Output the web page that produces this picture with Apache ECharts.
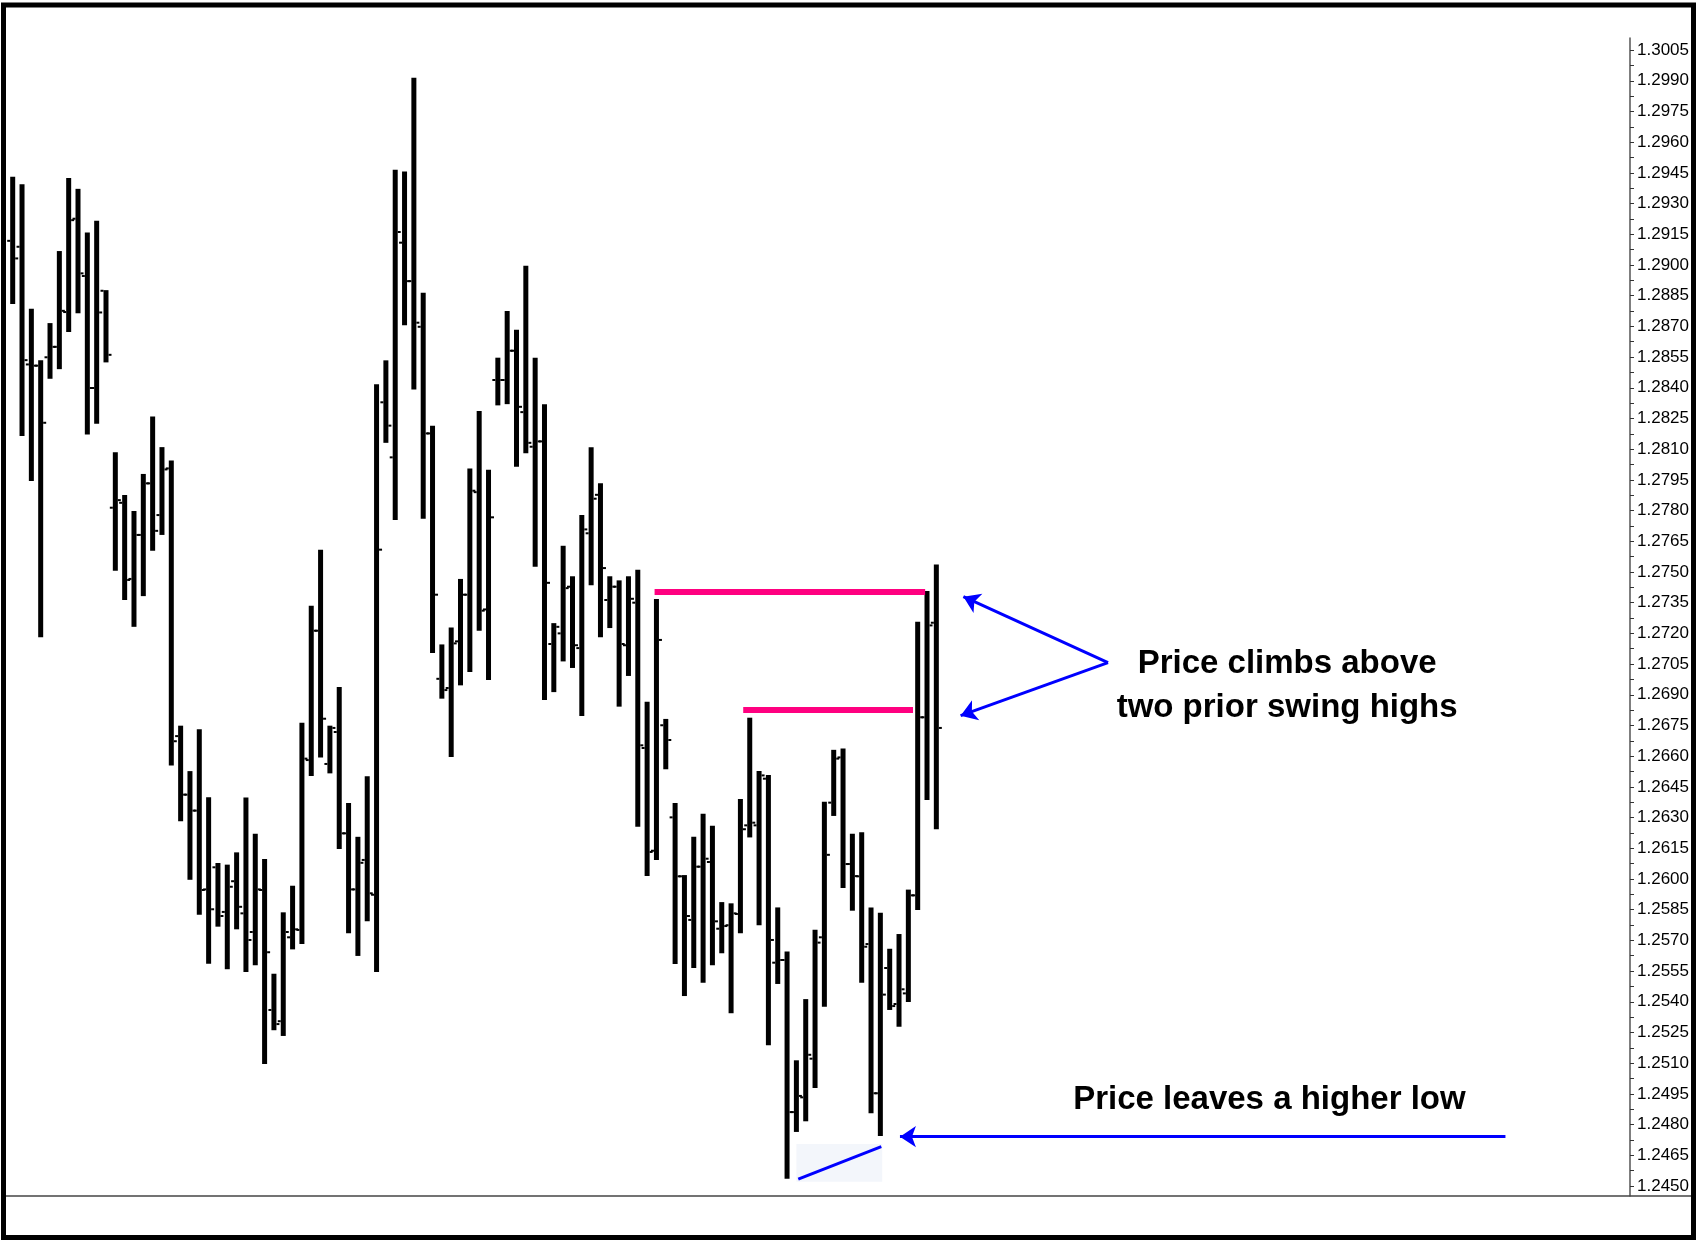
<!DOCTYPE html>
<html>
<head>
<meta charset="utf-8">
<script src="https://cdn.jsdelivr.net/npm/echarts@6/dist/echarts.min.js"></script>
<style>
html,body{margin:0;padding:0;background:#fff;}
#chart{width:1696px;height:1240px;}
</style>
</head>
<body>
<div id="chart"></div>
<script>
// ---- Data ----
const opens  = [1.29118,1.29089,1.28514,1.28508,1.28549,1.28600,1.28770,1.29226,1.28946,1.28399,
                1.28874,1.27814,1.27838,1.27466,1.27681,1.27933,1.27778,1.28006,1.26698,1.26412,
                1.26334,1.25949,1.26057,1.25839,1.25989,1.25832,1.25741,1.25946,1.25360,1.25305,
                1.25715,1.25751,1.26581,1.27213,1.26562,1.26718,1.26223,1.25949,1.26093,1.25923,
                1.28329,1.28060,1.29109,1.28921,1.28698,1.28177,1.26978,1.26933,1.27161,1.27389,
                1.27890,1.27317,1.28438,1.28438,1.28581,1.28281,1.28112,1.28138,1.27148,1.27200,
                1.27428,1.27128,1.27689,1.27877,1.27363,1.27428,1.27142,1.27350,1.26640,1.26138,
                1.26751,1.26301,1.26013,1.25800,1.26060,1.26083,1.25757,1.25774,1.25829,1.26262,
                1.26262,1.26490,1.25591,1.25604,1.24861,1.24933,1.25122,1.25715,1.26373,1.26594,
                1.26073,1.26013,1.25682,1.24953,1.25565,1.25389,1.25441,1.25920,1.26790,1.27252];
const highs  = [1.29431,1.29394,1.28786,1.28534,1.28716,1.29068,1.29425,1.29372,1.29159,1.29216,
                1.28877,1.28085,1.27876,1.27798,1.27979,1.28260,1.28110,1.28045,1.26749,1.26527,
                1.26731,1.26399,1.26078,1.26070,1.26130,1.26398,1.26221,1.26097,1.25537,1.25837,
                1.25967,1.26763,1.27335,1.27609,1.26749,1.26938,1.26371,1.26206,1.26502,1.28417,
                1.28534,1.29465,1.29457,1.29915,1.28864,1.28215,1.27146,1.27229,1.27466,1.28006,
                1.28286,1.27999,1.28547,1.28775,1.28683,1.28996,1.28547,1.28319,1.27250,1.27628,
                1.27479,1.27778,1.28110,1.27934,1.27479,1.27459,1.27479,1.27511,1.26866,1.27368,
                1.26782,1.26371,1.26019,1.26206,1.26319,1.26260,1.25887,1.25881,1.26391,1.26788,
                1.26527,1.26508,1.25861,1.25646,1.25114,1.25413,1.25752,1.26377,1.26631,1.26638,
                1.26221,1.26228,1.25861,1.25835,1.25659,1.25731,1.25948,1.27257,1.27407,1.27537];
const lows   = [1.28809,1.28164,1.27944,1.27181,1.28444,1.28491,1.28672,1.28764,1.28172,1.28224,
                1.28524,1.27506,1.27363,1.27232,1.27382,1.27604,1.27681,1.26555,1.26282,1.25996,
                1.25825,1.25586,1.25767,1.25559,1.25754,1.25545,1.25578,1.25096,1.25261,1.25233,
                1.25656,1.25682,1.26503,1.26594,1.26516,1.26146,1.25735,1.25624,1.25793,1.25545,
                1.28131,1.27754,1.28705,1.28392,1.27760,1.27104,1.26881,1.26596,1.26946,1.27011,
                1.27213,1.26972,1.28314,1.28320,1.28014,1.28080,1.27526,1.26874,1.26913,1.27063,
                1.27031,1.26796,1.27435,1.27181,1.27226,1.26842,1.26992,1.26255,1.26014,1.26093,
                1.26536,1.25585,1.25428,1.25565,1.25493,1.25578,1.25637,1.25344,1.25735,1.26203,
                1.25774,1.25187,1.25487,1.24535,1.24764,1.24816,1.24979,1.25376,1.26308,1.25956,
                1.25845,1.25493,1.24855,1.24744,1.25360,1.25278,1.25399,1.25848,1.26386,1.26243];
const closes = [1.29032,1.28535,1.28508,1.28229,1.28600,1.28776,1.29219,1.28959,1.28399,1.28768,
                1.28561,1.27851,1.27461,1.27681,1.27933,1.27701,1.28001,1.26673,1.26412,1.26334,
                1.25946,1.25852,1.25819,1.25962,1.25864,1.25702,1.25949,1.25642,1.25291,1.25741,
                1.25754,1.26588,1.27213,1.26783,1.26738,1.26223,1.25949,1.26079,1.25930,1.27609,
                1.28215,1.29161,1.28921,1.28718,1.28177,1.27389,1.26923,1.27151,1.27389,1.27897,
                1.27311,1.27767,1.28438,1.28581,1.28307,1.28131,1.28138,1.27447,1.27232,1.27421,
                1.27142,1.27708,1.27858,1.27519,1.27428,1.27148,1.27369,1.26653,1.26132,1.27168,
                1.26679,1.26013,1.25819,1.26060,1.26099,1.25793,1.25770,1.25832,1.26243,1.26275,
                1.26506,1.25702,1.25604,1.24861,1.24940,1.25141,1.25689,1.26118,1.26588,1.26073,
                1.26014,1.25669,1.24953,1.25435,1.25379,1.25461,1.25920,1.26790,1.27239,1.26738];

// price-scale tick labels
const tickLabels = [1.2450,1.2465,1.2480,1.2495,1.2510,1.2525,1.2540,1.2555,1.2570,1.2585,
                    1.2600,1.2615,1.2630,1.2645,1.2660,1.2675,1.2690,1.2705,1.2720,1.2735,
                    1.2750,1.2765,1.2780,1.2795,1.2810,1.2825,1.2840,1.2855,1.2870,1.2885,
                    1.2900,1.2915,1.2930,1.2945,1.2960,1.2975,1.2990,1.3005];

// annotation lines (bar index, price)
const swingHigh1 = [[68.8, 1.27405], [97.8, 1.27405]];
const swingHigh2 = [[78.3, 1.26826], [96.5, 1.26826]];
const higherLowLine = [[84.2, 1.24533], [93.1, 1.24692]];
const higherLowBox = [[84.0, 1.24705], [93.2, 1.24521]];
const arrowUp   = [[117.4, 1.27057], [101.9, 1.27379]];
const arrowDown = [[117.4, 1.27057], [101.6, 1.26798]];
const arrowLow  = [[160.0, 1.24741], [95.1, 1.24741]];
const notes = [
  {name: 'Price climbs above\ntwo prior swing highs', value: [136.6, 1.26945]},
  {name: 'Price leaves a higher low', value: [134.7, 1.24920]}
];

// ---- Build ----
const ohlc = opens.map((o, i) => [i, o, highs[i], lows[i], closes[i]]);
const minorTicks = tickLabels.slice(0, -1).map((v, i) => (v + tickLabels[i + 1]) / 2);
const allTicks = tickLabels.concat(minorTicks);

const chart = echarts.init(document.getElementById('chart'), null, {renderer: 'canvas'});

function renderOHLC(params, api) {
  const x = api.value(0);
  const o = api.coord([x, api.value(1)]);
  const h = api.coord([x, api.value(2)]);
  const l = api.coord([x, api.value(3)]);
  const c = api.coord([x, api.value(4)]);
  const w = 5;
  return {
    type: 'group',
    children: [
      {type: 'rect', shape: {x: h[0] - w / 2, y: h[1], width: w, height: l[1] - h[1]}, style: {fill: '#000'}},
      {type: 'rect', shape: {x: o[0] - w / 2 - 3, y: o[1] - 1, width: 3, height: 2}, style: {fill: '#000'}},
      {type: 'rect', shape: {x: c[0] + w / 2, y: c[1] - 1, width: 3, height: 2}, style: {fill: '#000'}}
    ]
  };
}

function renderBox(params, api) {
  const a = api.coord([api.value(0), api.value(1)]);
  const b = api.coord([api.value(2), api.value(3)]);
  return {type: 'rect', shape: {x: a[0], y: a[1], width: b[0] - a[0], height: b[1] - a[1]},
          style: {fill: '#f3f6fb'}};
}

const yMin = 1.24451, yMax = 1.30109;

chart.setOption({
  animation: false,
  backgroundColor: '#ffffff',
  grid: {left: 0, right: 66, top: 38, bottom: 44, containLabel: false},
  xAxis: {type: 'value', min: -1.361, max: 173.35, show: false},
  yAxis: {
    type: 'value', position: 'right', min: yMin, max: yMax, scale: true,
    splitLine: {show: false},
    axisLine: {show: true, onZero: false, lineStyle: {color: '#555', width: 1.5}},
    axisTick: {show: true, inside: false, length: 4, customValues: allTicks, lineStyle: {color: '#333'}},
    axisLabel: {
      show: true, customValues: tickLabels, margin: 7,
      formatter: v => Number(v).toFixed(4),
      color: '#000', fontSize: 17, fontFamily: 'Liberation Sans, Arial, sans-serif'
    }
  },
  series: [
    {
      type: 'custom', renderItem: renderBox, silent: true, z: 1,
      data: [[higherLowBox[0][0], higherLowBox[0][1], higherLowBox[1][0], higherLowBox[1][1]]],
      encode: {x: [0, 2], y: [1, 3]}
    },
    {
      type: 'custom', renderItem: renderOHLC, z: 2,
      data: ohlc, encode: {x: 0, y: [1, 2, 3, 4]}
    },
    {
      type: 'lines', coordinateSystem: 'cartesian2d', z: 3, symbol: 'none',
      lineStyle: {color: '#ff0080', width: 6, opacity: 1, curveness: 0},
      data: [{coords: swingHigh1}, {coords: swingHigh2}]
    },
    {
      type: 'lines', coordinateSystem: 'cartesian2d', z: 3, symbol: 'none',
      lineStyle: {color: '#0000ff', width: 3, opacity: 1, curveness: 0},
      data: [{coords: higherLowLine}]
    },
    {
      type: 'lines', coordinateSystem: 'cartesian2d', z: 3,
      symbol: ['none', 'arrow'], symbolSize: 16,
      lineStyle: {color: '#0000ff', width: 3, opacity: 1, curveness: 0},
      data: [{coords: arrowUp}, {coords: arrowDown}, {coords: arrowLow}]
    },
    {
      type: 'scatter', symbolSize: 0, z: 4, silent: true,
      itemStyle: {opacity: 1},
      data: notes,
      label: {
        show: true, position: 'inside', formatter: '{b}', opacity: 1,
        color: '#000000', fontSize: 33, fontWeight: 'bold', lineHeight: 44,
        fontFamily: 'Liberation Sans, Arial, sans-serif', align: 'center', verticalAlign: 'middle'
      }
    }
  ],
  graphic: [
    {type: 'line', shape: {x1: 5, y1: 1196, x2: 1692, y2: 1196}, style: {stroke: '#444', lineWidth: 1.5}, z: 10},
    {type: 'rect', shape: {x: 3.5, y: 5, width: 1690, height: 1232.5}, style: {fill: 'none', stroke: '#000', lineWidth: 5}, z: 10}
  ]
});
</script>
</body>
</html>
